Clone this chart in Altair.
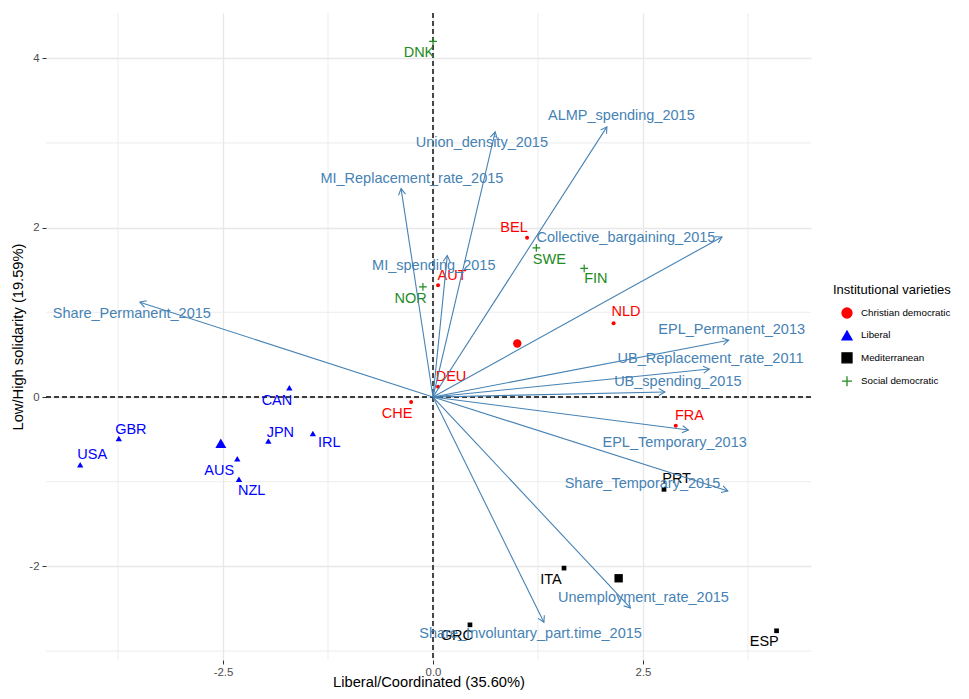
import altair as alt
import numpy as np
import pandas as pd

# ---------------- data ----------------
countries = ["DNK", "NOR", "AUT", "BEL", "SWE", "FIN", "NLD", "CAN", "CHE", "DEU", "GBR",
             "USA", "AUS", "NZL", "JPN", "IRL", "FRA", "PRT", "ITA", "GRC", "ESP"]
country_group = ["Social democratic", "Social democratic", "Christian democratic",
                 "Christian democratic", "Social democratic", "Social democratic",
                 "Christian democratic", "Liberal", "Christian democratic",
                 "Christian democratic", "Liberal", "Liberal", "Liberal", "Liberal",
                 "Liberal", "Liberal", "Christian democratic", "Mediterranean",
                 "Mediterranean", "Mediterranean", "Mediterranean"]
pc1 = [0.00, -0.12, 0.06, 1.12, 1.23, 1.80, 2.15, -1.71, -0.26, 0.06, -3.74,
       -4.20, -2.33, -2.31, -1.96, -1.43, 2.89, 2.75, 1.56, 0.44, 4.09]
pc2 = [4.20, 1.30, 1.32, 1.88, 1.76, 1.52, 0.87, 0.11, -0.06, 0.12, -0.49,
       -0.80, -0.73, -0.97, -0.52, -0.43, -0.34, -1.09, -2.02, -2.69, -2.76]

variables = ["Share_Permanent_2015", "MI_Replacement_rate_2015", "Union_density_2015",
             "ALMP_spending_2015", "MI_spending_2015", "Collective_bargaining_2015",
             "EPL_Permanent_2013", "UB_Replacement_rate_2011", "UB_spending_2015",
             "EPL_Temporary_2013", "Share_Temporary_2015", "Unemployment_rate_2015",
             "Share_Involuntary_part.time_2015"]
load1 = [-3.49, -0.38, 0.74, 2.07, 0.17, 3.44, 3.52, 3.29, 2.76, 3.04, 3.51, 2.35, 1.32]
load2 = [1.12, 2.46, 3.13, 3.19, 1.67, 1.89, 0.67, 0.33, 0.06, -0.39, -1.11, -2.49, -2.66]

group_names = ["Christian democratic", "Liberal", "Mediterranean", "Social democratic"]
x_title = "Liberal/Coordinated (35.60%)"
y_title = "Low/High solidarity (19.59%)"
legend_title = "Institutional varieties"
x_ticks = [-2.5, 0.0, 2.5]
y_ticks = [-2, 0, 2, 4]
x_minor = [-3.75, -1.25, 1.25, 3.75]
y_minor = [-3, -1, 1, 3]

# ---------------- style / layout ----------------
FONT = "Liberation Sans"
W, H = 765, 647
XDOM = [-4.607, 4.50]
YDOM = [-3.105, 4.534]
kx = W / (XDOM[1] - XDOM[0])
ky = H / (YDOM[1] - YDOM[0])
PLUS = "M-1,0L1,0M0,-1L0,1"
ARROW = "M-0.5,0.866L0,0L0.5,0.866"
STEEL = "#4682B4"
GRID = "#E8E8E8"
group_colors = ["#FF0000", "#0000FF", "#000000", "#228B22"]
group_shapes = ["circle", "triangle-up", "square", PLUS]
small_size = {"Christian democratic": 16, "Liberal": 40, "Mediterranean": 22, "Social democratic": 60}
big_size = {"Christian democratic": 70, "Liberal": 120, "Mediterranean": 70, "Social democratic": 200}
color_of = dict(zip(group_names, group_colors))
shape_of = dict(zip(group_names, group_shapes))

# label nudges in screen pixels (dx right, dy down)
country_nudge = {
    "DNK": (-14, 11.6), "NOR": (-12.3, 11.7), "AUT": (14, -9.3), "BEL": (-13, -10),
    "SWE": (13, 11.7), "FIN": (11.7, 11), "NLD": (12.4, -11), "CAN": (-12.4, 13),
    "CHE": (-14, 11.6), "DEU": (13, -9.4), "GBR": (12, -8.3), "USA": (12, -9.7),
    "AUS": (-18, 11.7), "NZL": (12.7, 12.3), "JPN": (12, -8.3), "IRL": (16.4, 10),
    "FRA": (13.7, -10), "PRT": (12.6, -10), "ITA": (-13, 11.6), "GRC": (-13, 11),
    "ESP": (-12.3, 11.7)}
var_nudge = {
    "Share_Permanent_2015": (-8, 11.7), "MI_Replacement_rate_2015": (10.8, -10),
    "Union_density_2015": (-13.3, 10.6), "ALMP_spending_2015": (14.5, -11),
    "MI_spending_2015": (-13.5, 10.7), "Collective_bargaining_2015": (-96, 0.7),
    "EPL_Permanent_2013": (3, -10.7), "UB_Replacement_rate_2011": (1.2, -10.3),
    "UB_spending_2015": (13, -10.3), "EPL_Temporary_2013": (-13.7, 13.3),
    "Share_Temporary_2015": (-85.4, -7), "Unemployment_rate_2015": (13, -10),
    "Share_Involuntary_part.time_2015": (-13.3, 12)}

# ---------------- tables ----------------
ind = pd.DataFrame({"country": countries, "group": country_group, "x": pc1, "y": pc2})
ind["lx"] = ind["x"] + [country_nudge[c][0] / kx for c in ind["country"]]
ind["ly"] = ind["y"] - np.array([country_nudge[c][1] / ky for c in ind["country"]])
ind["col"] = ind["group"].map(color_of)
ind["size"] = ind["group"].map(small_size)
ind["sw"] = [1.2 if g == "Social democratic" else 0 for g in ind["group"]]

cent = ind.groupby("group")[["x", "y"]].mean().reset_index()
cent["col"] = cent["group"].map(color_of)
cent["shp"] = cent["group"].map(shape_of)
cent["size"] = cent["group"].map(big_size)
cent["sw"] = [1.3 if g == "Social democratic" else 0 for g in cent["group"]]

var = pd.DataFrame({"name": variables, "x": load1, "y": load2})
var["x0"] = 0.0
var["y0"] = 0.0
var["lx"] = var["x"] + [var_nudge[v][0] / kx for v in var["name"]]
var["ly"] = var["y"] - np.array([var_nudge[v][1] / ky for v in var["name"]])
var["ang"] = np.degrees(np.arctan2(var["x"] * kx, var["y"] * ky)) % 360

xs = alt.Scale(domain=XDOM, nice=False, zero=False)
ys = alt.Scale(domain=YDOM, nice=False, zero=False)

common_axis = dict(grid=True, gridColor=GRID, gridWidth=1.4, domain=False, ticks=True,
                   tickSize=4, tickColor="#333333", tickWidth=1, labelFont=FONT,
                   labelFontSize=11.4, labelColor="#4D4D4D", titleFont=FONT,
                   titleFontSize=14.7, titleFontWeight="normal", titleColor="black")
XAX = alt.Axis(title=x_title, values=x_ticks,
               labelExpr="replace(format(datum.value, '.1f'), '\u2212', '-')",
               labelPadding=2, titleY=22, titleX=W / 2, titleBaseline="middle", **common_axis)
YAX = alt.Axis(title=y_title, values=y_ticks,
               labelExpr="replace(format(datum.value, 'd'), '\u2212', '-')",
               labelPadding=3, titleX=-28, titleY=H / 2, titleBaseline="middle", **common_axis)


def X(field):
    return alt.X(field, scale=xs, axis=XAX)


def Y(field):
    return alt.Y(field, scale=ys, axis=YAX)


xminor = alt.Chart(pd.DataFrame({"v": x_minor})).mark_rule(color=GRID, strokeWidth=0.8).encode(
    x=X("v:Q"))
yminor = alt.Chart(pd.DataFrame({"v": y_minor})).mark_rule(color=GRID, strokeWidth=0.8).encode(
    y=Y("v:Q"))

zero_v = alt.Chart(pd.DataFrame({"v": [0.0]})).mark_rule(
    color="black", strokeWidth=1.4, strokeDash=[5, 3]).encode(x=X("v:Q"))
zero_h = alt.Chart(pd.DataFrame({"v": [0.0]})).mark_rule(
    color="black", strokeWidth=1.4, strokeDash=[5, 3]).encode(y=Y("v:Q"))

points = alt.Chart(ind).mark_point(filled=True, opacity=1).encode(
    x=X("x:Q"),
    y=Y("y:Q"),
    fill=alt.Fill("group:N", scale=alt.Scale(domain=group_names, range=group_colors),
                  legend=alt.Legend(title=legend_title)),
    stroke=alt.Stroke("group:N", scale=alt.Scale(domain=group_names, range=group_colors),
                      legend=alt.Legend(title=legend_title)),
    shape=alt.Shape("group:N", scale=alt.Scale(domain=group_names, range=group_shapes),
                    legend=alt.Legend(title=legend_title)),
    size=alt.Size("size:Q", scale=None),
    strokeWidth=alt.StrokeWidth("sw:Q", scale=None),
)

centroids = alt.Chart(cent).mark_point(filled=True, opacity=1).encode(
    x=X("x:Q"),
    y=Y("y:Q"),
    color=alt.Color("col:N", scale=None),
    shape=alt.Shape("shp:N", scale=None),
    size=alt.Size("size:Q", scale=None),
    strokeWidth=alt.StrokeWidth("sw:Q", scale=None),
)

country_labels = alt.Chart(ind).mark_text(font=FONT, fontSize=14.5, baseline="middle",
                                          align="center").encode(
    x=X("lx:Q"),
    y=Y("ly:Q"),
    text="country:N",
    color=alt.Color("col:N", scale=None),
)

arrows = alt.Chart(var).mark_rule(color=STEEL, strokeWidth=1.1).encode(
    x=X("x0:Q"), y=Y("y0:Q"), x2="x:Q", y2="y:Q")

heads = alt.Chart(var).mark_point(shape=ARROW, filled=False, color=STEEL, strokeWidth=1.1,
                                  size=196, opacity=1).encode(
    x=X("x:Q"), y=Y("y:Q"), angle=alt.Angle("ang:Q", scale=None))

var_labels = alt.Chart(var).mark_text(font=FONT, fontSize=14.5, baseline="middle",
                                      align="center", color=STEEL).encode(
    x=X("lx:Q"), y=Y("ly:Q"), text="name:N")

chart = alt.layer(
    xminor, yminor, zero_v, zero_h, points, centroids, country_labels,
    arrows, heads, var_labels
).properties(
    width=W, height=H,
    padding={"left": 38, "top": 5, "right": 150, "bottom": 31},
    autosize=alt.AutoSizeParams(type="none"),
).configure_view(stroke=None).configure_legend(
    orient="none", legendX=787, legendY=271, padding=0,
    titleFont=FONT, titleFontSize=13, titleFontWeight="normal", titleColor="black",
    labelFont=FONT, labelFontSize=9.8, labelColor="black",
    symbolSize=100, symbolStrokeWidth=1.3, rowPadding=7.4, titlePadding=10,
    symbolOffset=8, labelOffset=8,
)

chart.save("out.html", embed_options={"renderer": "svg", "actions": False})
